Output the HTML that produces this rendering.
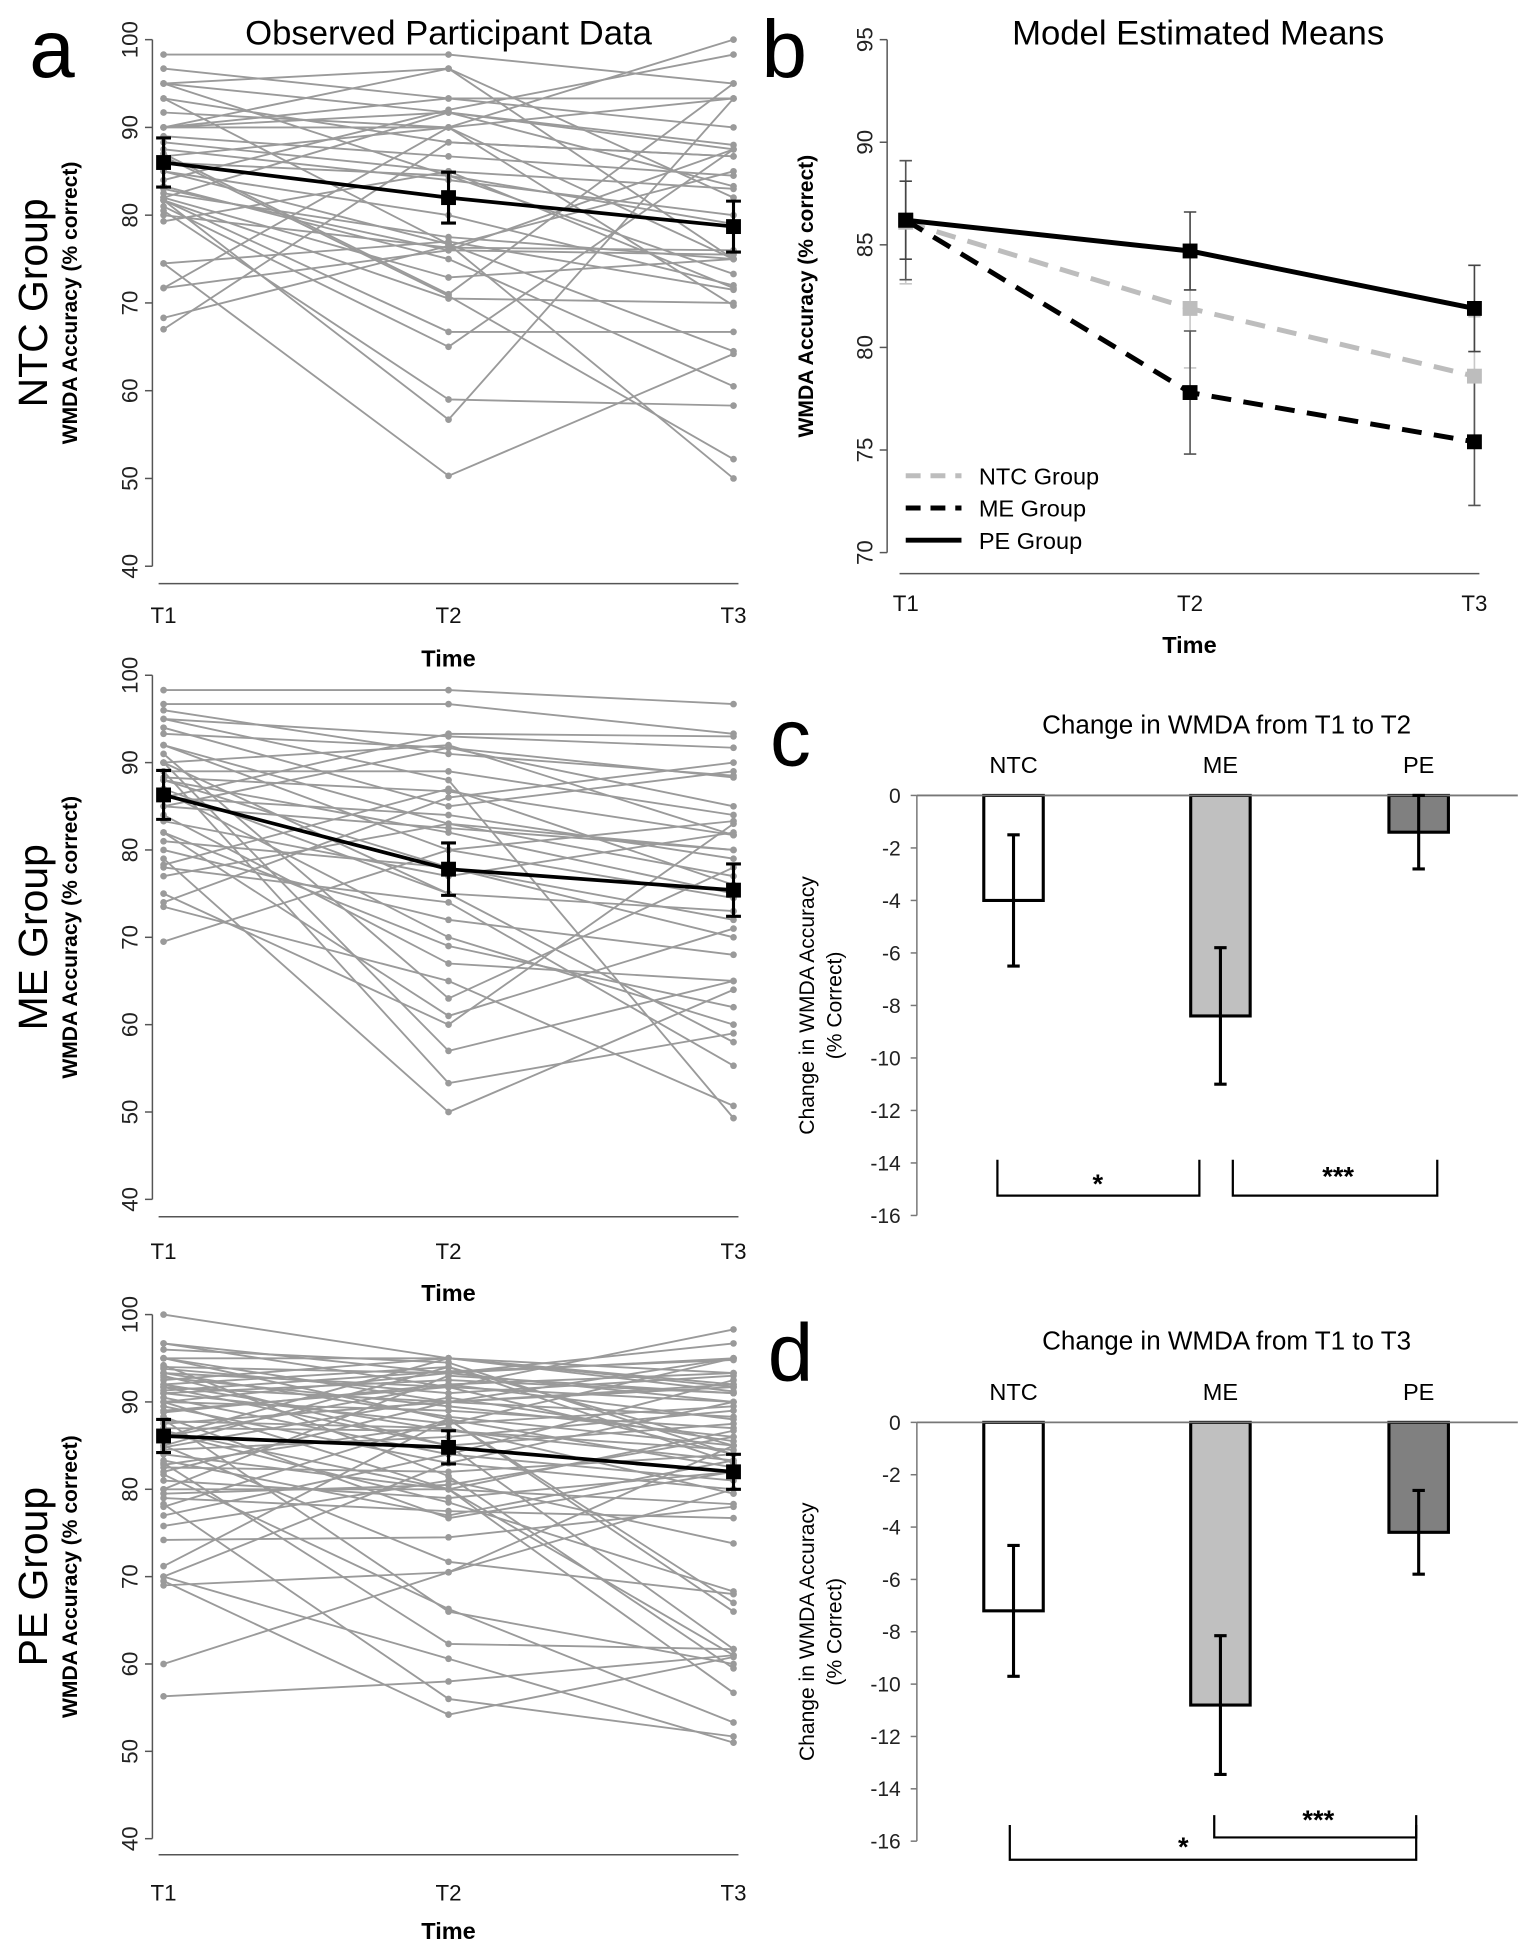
<!DOCTYPE html>
<html><head><meta charset="utf-8">
<style>
html,body{margin:0;padding:0;background:#fff;}
svg{display:block;font-family:"Liberation Sans",Arial,sans-serif;}
</style></head>
<body>
<svg id="fig" width="1524" height="1944" viewBox="0 0 1230 1569" xmlns="http://www.w3.org/2000/svg"></svg>
<script>
// ---------- DATA ----------
const timeLabels = ["T1","T2","T3"];
const ntcParticipants = [[98.3,98.3,95],[96.7,93.3,90],[95,96.7,75],[95,91.7,87.5],[93.3,76.7,50],[91.7,90,93.3],[90,93.3,93.3],[90,91.7,83.3],[90,90,75],[88.3,85,71.7],[87.5,84,80],[86.7,90,100],[86.7,70.8,52.2],[85,76.7,64.5],[85,80,72],[84,92,98.3],[83.3,75,60.5],[82.5,77.5,75],[82,72.9,75],[81.7,56.7,93.3],[81.7,66.7,66.7],[81.7,70.5,70],[81,65,87.5],[80.5,59,58.3],[80,76.3,76],[79.3,85,83],[74.5,50.3,64.2],[74.5,77,71.5],[71.7,90,69.7],[71.7,76,75.5],[68.3,76.5,85],[67,88.3,86.7],[90,96.7,82],[95,84.5,79],[87,71,95],[83,76,87.5],[86,84.5,73.3],[82,91.7,88],[93.3,88.3,86.7],[89,86.7,84.5]];
const meParticipants = [[98.3,98.3,96.7],[96.7,96.7,93.3],[95,93,91.7],[94,85,89],[93.3,91.7,88.3],[92,80,83.3],[91,63,78],[90,92,81.7],[90,57,65],[89,53.3,59],[88.3,86.7,81.7],[88,82,75],[87,75,73],[86.7,70,60],[86,84,79],[85,91.7,85],[84,67,65],[83.3,77,82],[82,69,62],[81,78,70],[80,72,68],[79,50,64],[78.3,87,76],[78,74,55.3],[77,83,80],[75,60,83],[74,86,90],[73.5,65,50.7],[69.5,80,74.5],[95,88,49.3],[90,75,58],[86,93.3,93],[82,61,71],[89,89,84],[85,82.5,80],[92,83,77],[96,91,88.5],[88,78,72]];
const peParticipants = [[100,95,93.3],[96.7,93.3,95],[96.7,91.7,98.3],[95,95,91.7],[95,90,88.3],[94,93.3,96.7],[93.3,88.3,85],[93.3,91.7,90],[92.5,95,92],[92,86.7,83.3],[91.7,90,95],[91.7,85,61.7],[91,92.5,91],[90,89,87],[90,80,86.7],[90,93.3,90],[89,91.7,84],[88.3,76.7,82],[88,66,60],[87.5,90,91.7],[87,86.7,84.5],[86.7,80,56.7],[86,92,93.3],[85,94,85],[85,71.7,68],[84.5,86,89],[84,80,61],[83.3,77,83.3],[83,62.3,61.7],[82.5,82,84],[82,90,92],[81.7,66.3,53.3],[81,79,82],[80,80,78.3],[80,93,91],[79.5,80.5,86],[79,77.5,76.7],[78.3,56,51.7],[78,88,67],[77,84,92.5],[75.8,81,73.8],[74.2,74.5,78],[71.2,88,66],[70,83,80],[70,60.6,51],[69.5,54.2,60.8],[69,70.5,85],[60,70.5,80],[56.3,58,61],[95,88,82.5],[93,85,87.5],[92,94,83],[91,87.5,95],[89.5,83,90],[88.8,92,88],[87.8,87,79.5],[86.5,78.5,68.3],[96,94.5,84],[92.8,89.5,86],[90.5,84,81],[86,95,91.2],[84.8,90.5,85.5],[82.8,87.5,89.5],[94.2,81.5,59.5],[93.8,91,93],[91.3,93.5,94.8]];
const ntcMean = [86,82,78.7];
const ntcErr = [2.8,2.9,2.9];
const meMean = [86.3,77.8,75.4];
const meErr = [2.8,3.0,3.0];
const peMean = [86.1,84.8,82];
const peErr = [1.9,1.9,2.0];
const modelNTC = [86.1,81.9,78.6];
const modelME = [86.2,77.8,75.4];
const modelPE = [86.2,84.7,81.9];
const modelNTCErr = [3.0,2.9,2.9];
const modelMEErr = [2.9,3.0,3.1];
const modelPEErr = [1.9,1.9,2.1];
const barGroups = ["NTC","ME","PE"];
const changeT2 = [-4.0,-8.4,-1.4];
const changeT2Err = [2.5,2.6,1.4];
const changeT3 = [-7.2,-10.8,-4.2];
const changeT3Err = [2.5,2.65,1.6];
const aTicks = [40,50,60,70,80,90,100];
const bTicks = [70,75,80,85,90,95];
const cTicks = [0,-2,-4,-6,-8,-10,-12,-14,-16];

// ---------- HELPERS ----------
const svg = document.getElementById('fig');
const NS = "http://www.w3.org/2000/svg";
function mk(tag, attrs, parent){
  const e = document.createElementNS(NS, tag);
  for (const k in attrs) e.setAttribute(k, attrs[k]);
  (parent||svg).appendChild(e);
  return e;
}
function txt(s, x, y, size, opts, parent){
  opts = opts||{};
  const t = mk('text', {x:x, y:y, 'font-size':size, 'text-anchor':opts.anchor||'middle', fill:opts.fill||'#000', 'font-weight':opts.bold?'bold':'normal'}, parent);
  if (opts.rot) t.setAttribute('transform', `rotate(${opts.rot} ${x} ${y})`);
  t.textContent = s;
  return t;
}
function lin(d0,d1,r0,r1){ return v => r0 + (v-d0)*(r1-r0)/(d1-d0); }

// ---------- PANEL A ----------
function participantPanel(name, data, mean, err, yTop, yBot, axisY, labY, timeY, groupName){
  const g = mk('g', {});
  
  
  const xs = lin(0,2,132,592);
  const ys = lin(40,100,yBot,yTop);
  // y axis
  const ax = mk('g', {}, g);
  
  
  mk('line', {x1:123,y1:ys(100),x2:123,y2:ys(40),stroke:'#555','stroke-width':1.2}, ax);
  aTicks.forEach(v=>{
    mk('line', {x1:117,y1:ys(v),x2:123,y2:ys(v),stroke:'#555','stroke-width':1.2}, ax);
    const t = txt(String(v), 111, ys(v), 18, {rot:-90, fill:'#222'}, ax);
    
    
  });
  const xa = mk('line', {x1:128,y1:axisY,x2:596,y2:axisY,stroke:'#555','stroke-width':1.2}, g);
  
  
  timeLabels.forEach((l,i)=>{
    const t = txt(l, xs(i), labY, 18, {fill:'#111'}, g);
    
    
  });
  const tt = txt('Time', 362, timeY, 19, {bold:true}, g);
  
  
  const yt = txt('WMDA Accuracy (% correct)', 62, (yTop+yBot)/2, 17, {bold:true, rot:-90}, g);
  
  
  const gt = txt(groupName, 38, (yTop+yBot)/2, 33, {rot:-90}, g);
  
  
  // participants
  data.forEach(p=>{
    const pl = mk('polyline', {points:p.map((v,i)=>xs(i)+','+ys(v)).join(' '), fill:'none', stroke:'#9a9a9a','stroke-width':1.5}, g);
    
    
    p.forEach((v,i)=>{
      const c = mk('circle', {cx:xs(i), cy:ys(v), r:2.7, fill:'#9a9a9a'}, g);
      
      
    });
  });
  // mean
  const ml = mk('polyline', {points:mean.map((v,i)=>xs(i)+','+ys(v)).join(' '), fill:'none', stroke:'#000','stroke-width':3}, g);
  
  
  mean.forEach((v,i)=>{
    const eb = mk('path', {d:`M${xs(i)},${ys(v+err[i])}V${ys(v-err[i])}M${xs(i)-6},${ys(v+err[i])}h12M${xs(i)-6},${ys(v-err[i])}h12`, stroke:'#000','stroke-width':2.5, fill:'none'}, g);
    
    
    const m = mk('rect', {x:xs(i)-6, y:ys(v)-6, width:12, height:12, fill:'#000'}, g);
    
    
  });
}
participantPanel('ntc-observed-panel', ntcParticipants, ntcMean, ntcErr, 32, 457, 471, 503, 538, 'NTC Group');
participantPanel('me-observed-panel', meParticipants, meMean, meErr, 545, 968, 982, 1016, 1050, 'ME Group');
participantPanel('pe-observed-panel', peParticipants, peMean, peErr, 1061, 1484, 1497, 1534, 1565, 'PE Group');

let t;
t = txt('Observed Participant Data', 362, 36, 28);  
t = txt('a', 42, 62, 66);  
t = txt('b', 633, 62, 66);  
t = txt('c', 638, 618, 66);  
t = txt('d', 638, 1114, 66);  

// ---------- PANEL B ----------
(function(){
  const g = mk('g', {});
  
  
  const xs = lin(0,2,731,1190);
  const ys = lin(70,95,446,32);
  t = txt('Model Estimated Means', 967, 36, 28, {}, g);  
  mk('line', {x1:716,y1:ys(95),x2:716,y2:ys(70),stroke:'#555','stroke-width':1.2}, g);
  bTicks.forEach(v=>{
    mk('line', {x1:710,y1:ys(v),x2:716,y2:ys(v),stroke:'#555','stroke-width':1.2}, g);
    const l = txt(String(v), 704, ys(v), 18, {rot:-90, fill:'#222'}, g);
     
  });
  mk('line', {x1:726,y1:463,x2:1194,y2:463,stroke:'#555','stroke-width':1.2}, g);
  timeLabels.forEach((l,i)=>{ const e = txt(l, xs(i), 493, 18, {fill:'#111'}, g);   });
  t = txt('Time', 960, 527, 19, {bold:true}, g);  
  t = txt('WMDA Accuracy (% correct)', 656, 239, 17, {bold:true, rot:-90}, g);  
  const series = [
    {n:'ntc', d:modelNTC, e:modelNTCErr, c:'#bdbdbd', dash:'16,10', ec:'#c8c8c8'},
    {n:'me', d:modelME, e:modelMEErr, c:'#000', dash:'16,10', ec:'#555'},
    {n:'pe', d:modelPE, e:modelPEErr, c:'#000', dash:'', ec:'#444'}
  ];
  series.forEach(s=>{
    s.d.forEach((v,i)=>{
      const eb = mk('path', {d:`M${xs(i)},${ys(v+s.e[i])}V${ys(v-s.e[i])}M${xs(i)-5},${ys(v+s.e[i])}h10M${xs(i)-5},${ys(v-s.e[i])}h10`, stroke:s.ec,'stroke-width':1.3, fill:'none'}, g);
       
    });
  });
  series.forEach(s=>{
    const pl = mk('polyline', {points:s.d.map((v,i)=>xs(i)+','+ys(v)).join(' '), fill:'none', stroke:s.c,'stroke-width':4,'stroke-dasharray':s.dash}, g);
     
    s.d.forEach((v,i)=>{
      const m = mk('rect', {x:xs(i)-6, y:ys(v)-6, width:12, height:12, fill:s.c}, g);
       
    });
  });
  const legend = [['NTC Group','#bdbdbd','12,8',384],['ME Group','#000','12,8',410],['PE Group','#000','',436]];
  legend.forEach(L=>{
    const lg = mk('g', {}, g);
     
    mk('line', {x1:731,y1:L[3],x2:776,y2:L[3],stroke:L[1],'stroke-width':4,'stroke-dasharray':L[2]}, lg);
    txt(L[0], 790, L[3]+7, 19, {anchor:'start'}, lg);
  });
})();

// ---------- PANELS C, D ----------
function barPanel(name, title, vals, errs, yZero, yMin, titleY, brackets){
  const g = mk('g', {});
  
  
  const ys = lin(0,-16,yZero,yMin);
  const xc = [818,985,1145];
  t = txt(title, 990, titleY, 21, {}, g);  
  mk('line', {x1:740,y1:ys(0),x2:740,y2:ys(-16),stroke:'#777','stroke-width':1.2}, g);
  cTicks.forEach(v=>{
    mk('line', {x1:735,y1:ys(v),x2:740,y2:ys(v),stroke:'#777','stroke-width':1.2}, g);
    const l = txt(String(v), 727, ys(v)+6, 17, {anchor:'end', fill:'#222'}, g);
     
  });
  const yl = mk('g', {}, g);
   
  const ym = (yZero+yMin)/2;
  txt('Change in WMDA Accuracy', 657, ym, 17, {rot:-90}, yl);
  txt('(% Correct)', 679, ym, 17, {rot:-90}, yl);
  const fills = ['#fff','#c0c0c0','#808080'];
  vals.forEach((v,i)=>{
    const b = mk('rect', {x:xc[i]-24, y:ys(0), width:48, height:ys(v)-ys(0), fill:fills[i], stroke:'#000','stroke-width':2.5}, g);
     
  });
  mk('line', {x1:740,y1:ys(0),x2:1225,y2:ys(0),stroke:'#777','stroke-width':1.5}, g);
  vals.forEach((v,i)=>{
    const eb = mk('path', {d:`M${xc[i]},${ys(v+errs[i])}V${ys(v-errs[i])}M${xc[i]-5},${ys(v+errs[i])}h10M${xc[i]-5},${ys(v-errs[i])}h10`, stroke:'#000','stroke-width':2.5, fill:'none'}, g);
     
    const l = txt(barGroups[i], xc[i], yZero-18, 19, {}, g);
     
  });
  brackets.forEach(b=>{
    const bg = mk('g', {}, g);
     
    mk('path', {d:`M${b.x1},${b.top}V${b.y}H${b.x2}V${b.top}`, fill:'none', stroke:'#000','stroke-width':1.8}, bg);
    txt(b.s, b.tx, b.ty, 22, {bold:true}, bg);
  });
}
barPanel('change-t1-t2-panel', 'Change in WMDA from T1 to T2', changeT2, changeT2Err, 642, 981, 592,
  [{x1:805,x2:968,y:965,top:936,s:'*',tx:886,ty:963},{x1:995,x2:1160,y:965,top:936,s:'***',tx:1080,ty:957}]);
barPanel('change-t1-t3-panel', 'Change in WMDA from T1 to T3', changeT3, changeT3Err, 1148, 1486, 1089,
  [{x1:980,x2:1143,y:1483,top:1465,s:'***',tx:1064,ty:1476},{x1:815,x2:1143,y:1501,top:1473,s:'*',tx:955,ty:1498}]);
</script>
</body></html>
